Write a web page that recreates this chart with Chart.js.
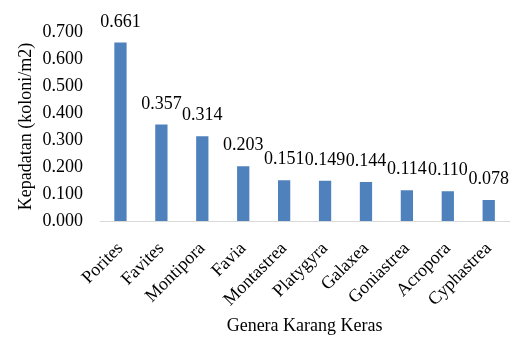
<!DOCTYPE html>
<html>
<head>
<meta charset="utf-8">
<script src="https://cdn.jsdelivr.net/npm/chart.js@4.4.1/dist/chart.umd.min.js"></script>
<style>
  html, body { margin: 0; padding: 0; background: #ffffff; }
  #wrap { width: 521px; height: 337px; position: relative; }
</style>
</head>
<body>
<div id="wrap"><canvas id="c" width="521" height="337"></canvas></div>
<script>
const categories = ["Porites", "Favites", "Montipora", "Favia", "Montastrea", "Platygyra", "Galaxea", "Goniastrea", "Acropora", "Cyphastrea"];
const densities = [0.661, 0.357, 0.314, 0.203, 0.151, 0.149, 0.144, 0.114, 0.110, 0.078];
const yTicks = [0, 0.1, 0.2, 0.3, 0.4, 0.5, 0.6, 0.7];
const xTitle = "Genera Karang Keras";
const yTitle = "Kepadatan (koloni/m2)";

const FONT = "'Liberation Serif', 'Times New Roman', serif";

const valueLabels = {
  id: 'valueLabels',
  afterDatasetsDraw(chart) {
    const ctx = chart.ctx;
    const meta = chart.getDatasetMeta(0);
    ctx.save();
    ctx.font = "18px " + FONT;
    ctx.fillStyle = "#000000";
    ctx.textAlign = "center";
    ctx.textBaseline = "alphabetic";
    meta.data.forEach((bar, i) => {
      ctx.fillText(densities[i].toFixed(3), bar.x, bar.y - 16);
    });
    ctx.restore();
  }
};

new Chart(document.getElementById('c'), {
  type: 'bar',
  data: {
    labels: categories,
    datasets: [{
      data: densities,
      backgroundColor: '#4F81BD',
      borderWidth: 0,
      categoryPercentage: 1.0,
      barPercentage: 0.3
    }]
  },
  options: {
    responsive: false,
    animation: false,
    devicePixelRatio: 1,
    layout: { padding: { top: 32, right: 0, bottom: 0, left: 0 } },
    plugins: { legend: { display: false }, tooltip: { enabled: false } },
    scales: {
      x: {
        grid: { display: false, drawTicks: false },
        border: { display: true, color: '#D9D9D9', width: 1 },
        ticks: {
          color: '#000000',
          font: { family: FONT, size: 18 },
          minRotation: 45,
          maxRotation: 45,
          padding: 17,
          autoSkip: false
        },
        title: {
          display: true,
          text: xTitle,
          color: '#000000',
          font: { family: FONT, size: 18 },
          padding: { top: 0, bottom: 0 }
        },
        afterFit(scale) { scale.height = 116; }
      },
      y: {
        min: 0,
        max: 0.7,
        afterBuildTicks(scale) { scale.ticks = yTicks.map(v => ({ value: v })); },
        grid: { display: false, drawTicks: false },
        border: { display: false },
        ticks: {
          color: '#000000',
          font: { family: FONT, size: 18 },
          padding: 17,
          callback: (v) => Number(v).toFixed(3)
        },
        title: {
          display: true,
          text: yTitle,
          color: '#000000',
          font: { family: FONT, size: 18 },
          padding: { top: 15, bottom: 0 }
        },
        afterFit(scale) { scale.width = 100; }
      }
    }
  },
  plugins: [valueLabels]
});
</script>
</body>
</html>
